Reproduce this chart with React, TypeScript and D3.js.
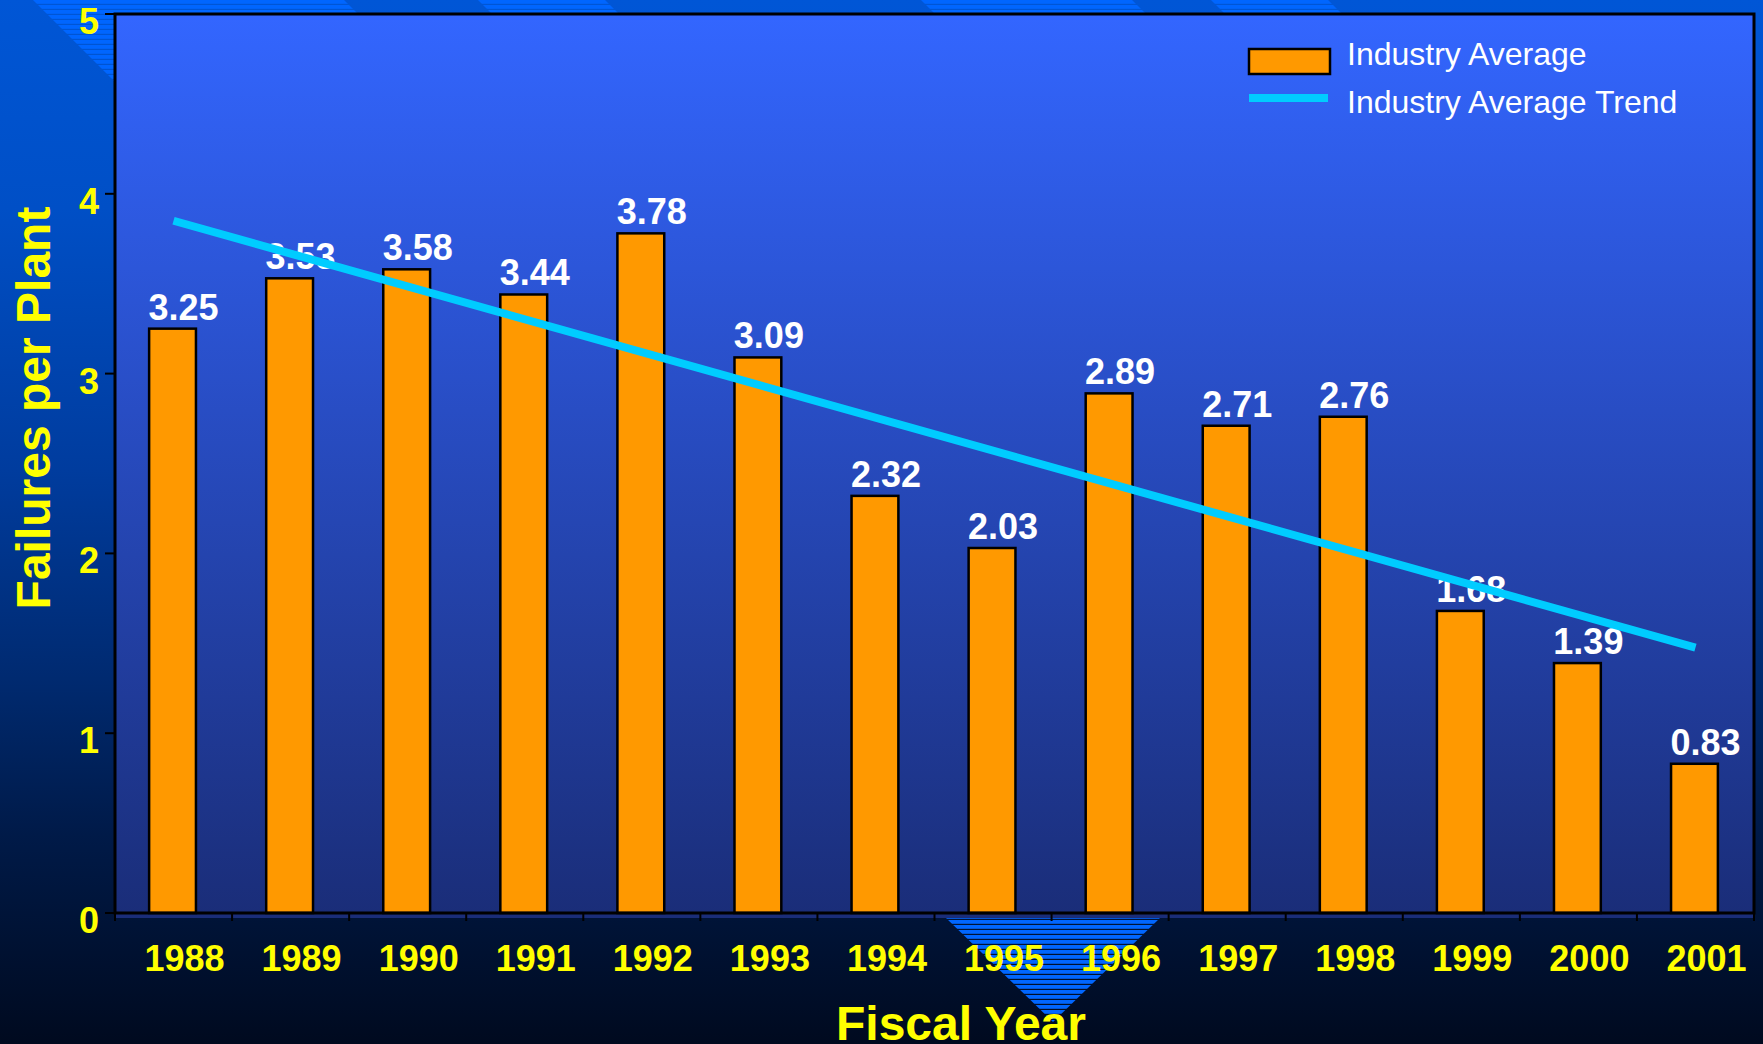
import React from 'react'
import * as d3 from 'd3'

// fiscal years and industry average failures per plant
const years = ['1988', '1989', '1990', '1991', '1992', '1993', '1994', '1995', '1996', '1997', '1998', '1999', '2000', '2001']
const failures = [3.25, 3.53, 3.58, 3.44, 3.78, 3.09, 2.32, 2.03, 2.89, 2.71, 2.76, 1.68, 1.39, 0.83]
const yTicks = [0, 1, 2, 3, 4, 5]
const legendLabels = ['Industry Average', 'Industry Average Trend']

const W = 1763
const H = 1044
const FONT = '"Liberation Sans", Arial, Helvetica, sans-serif'

// stripe segments of the slide background along the top edge (x at y=0)
const topStripes = [[33, 344, 100], [478, 605, 20], [921, 1132, 20], [1211, 1328, 20]]

function App () {
  const left = 115
  const right = 1754
  const top = 14
  const bottom = 913

  const x = d3.scaleBand<string>().domain(years).range([left, right]).paddingInner(0).paddingOuter(0)
  const y = d3.scaleLinear().domain([0, 5]).range([bottom, top])
  const barW = x.bandwidth() * 0.4
  const cx = (yr: string) => (x(yr) as number) + x.bandwidth() / 2

  // least squares trend over the bar values
  const idx = failures.map((_, i) => i)
  const mx = d3.mean(idx) as number
  const my = d3.mean(failures) as number
  const slope = (d3.sum(idx, i => (i - mx) * (failures[i] - my))) / (d3.sum(idx, i => (i - mx) ** 2))
  const trend = years.map((yr, i) => [cx(yr), y(my + slope * (i - mx))] as [number, number])
  const trendPath = d3.line()([trend[0], trend[trend.length - 1]]) as string

  const bandEdges = years.map(yr => x(yr) as number).concat([right])

  return (
    <div style={{ position: 'absolute', left: 0, top: 0 }}>
      <svg width={W} height={H} style={{ display: 'block' }} fontFamily={FONT}>
        <defs>
          <linearGradient id='bg' x1='0' y1='0' x2='0' y2='1'>
            <stop offset='0' stopColor='#0056d6' />
            <stop offset='0.2' stopColor='#004fc6' />
            <stop offset='0.45' stopColor='#003c9e' />
            <stop offset='0.65' stopColor='#002a70' />
            <stop offset='0.8' stopColor='#001a48' />
            <stop offset='1' stopColor='#000a1f' />
          </linearGradient>
          <linearGradient id='plotbg' x1='0' y1='0' x2='0' y2='1'>
            <stop offset='0' stopColor='#3366ff' />
            <stop offset='1' stopColor='#1a2d78' />
          </linearGradient>
          <pattern id='stripes' patternUnits='userSpaceOnUse' width={10} height={5}>
            <rect x={0} y={0} width={10} height={3.8} fill='#0066ff' />
          </pattern>
        </defs>

        <rect x={0} y={0} width={W} height={H} fill='url(#bg)' />

        {topStripes.map(([a, b, h], i) => (
          <polygon key={i} points={`${a},0 ${b},0 ${b + h},${h} ${a + h},${h}`} fill='url(#stripes)' />
        ))}
        <polygon points='946,918 1160,918 1053,1022' fill='url(#stripes)' />

        <rect x={left} y={top} width={right - left} height={918 - top} fill='url(#plotbg)' />

        {years.map((yr, i) => (
          <rect
            key={yr}
            x={cx(yr) - barW / 2 - 1}
            y={y(failures[i])}
            width={barW}
            height={bottom - y(failures[i])}
            fill='#ff9900'
            stroke='#000'
            strokeWidth={2.5}
          />
        ))}

        {years.map((yr, i) => (
          <text key={yr} x={cx(yr) + 10} y={y(failures[i]) - 9} textAnchor='middle' fill='#fff' fontWeight='bold' fontSize={36}>
            {failures[i].toFixed(2)}
          </text>
        ))}

        <path d={trendPath} stroke='#00ccff' strokeWidth={8} fill='none' />

        <rect x={left} y={top} width={right - left} height={bottom - top} fill='none' stroke='#000' strokeWidth={3} />

        {bandEdges.map((e, i) => (
          <line key={i} x1={e} x2={e} y1={bottom} y2={921} stroke='#000' strokeWidth={2} />
        ))}
        {yTicks.map(t => (
          <g key={t}>
            <line x1={105} x2={left} y1={y(t)} y2={y(t)} stroke='#000' strokeWidth={2} />
            <text x={99} y={y(t) + 20} textAnchor='end' fill='#ffff00' fontWeight='bold' fontSize={36}>{t}</text>
          </g>
        ))}
        {years.map(yr => (
          <text key={yr} x={cx(yr) + 11} y={971} textAnchor='middle' fill='#ffff00' fontWeight='bold' fontSize={36}>{yr}</text>
        ))}

        <text x={961} y={1040} textAnchor='middle' fill='#ffff00' fontWeight='bold' fontSize={48}>Fiscal Year</text>
        <text transform='translate(50,408) rotate(-90)' textAnchor='middle' fill='#ffff00' fontWeight='bold' fontSize={48}>Failures per Plant</text>

        <rect x={1249} y={49} width={81} height={25} fill='#ff9900' stroke='#000' strokeWidth={2.5} />
        <line x1={1249} x2={1328} y1={98} y2={98} stroke='#00ccff' strokeWidth={8} />
        <text x={1347} y={65} fill='#fff' fontSize={32}>{legendLabels[0]}</text>
        <text x={1347} y={113} fill='#fff' fontSize={32}>{legendLabels[1]}</text>
      </svg>
    </div>
  )
}

export default App
